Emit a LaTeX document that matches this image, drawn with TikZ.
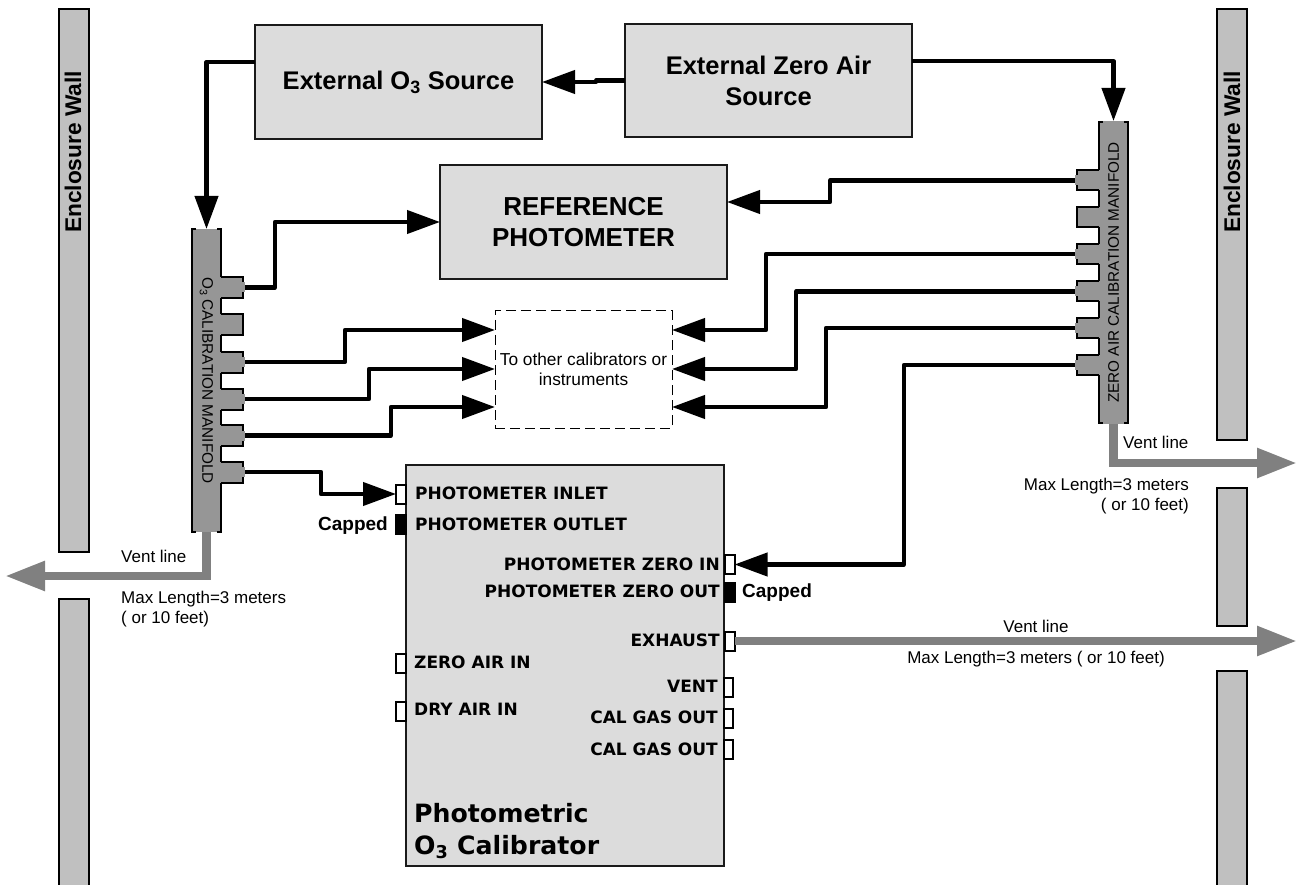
\documentclass[tikz,border=0pt]{standalone}
\usepackage{fontspec}
\usepackage{tikz}
\usepackage{xcolor}
\setmainfont{Liberation Sans}
\newfontfamily\portfont{DejaVu Sans}
\usetikzlibrary{arrows.meta,positioning}
\definecolor{boxgrey}{HTML}{DCDCDC}
\definecolor{wallgrey}{HTML}{C0C0C0}
\definecolor{mangrey}{HTML}{969696}
\definecolor{ventgrey}{HTML}{808080}
\definecolor{edgeblack}{HTML}{1A1A1A}

\begin{document}
\begin{tikzpicture}[
    x=1pt, y=-1pt,
    box/.style={rectangle, draw=edgeblack, fill=boxgrey, line width=2pt, align=center, outer sep=0pt, font=\bfseries\fontsize{25.5}{31}\selectfont},
    wall/.style={rectangle, draw=black, fill=wallgrey, line width=2pt, minimum width=30, outer sep=0pt, inner sep=0pt},
    walltext/.style={rotate=90, font=\bfseries\fontsize{22.7}{26}\selectfont},
    manifold/.style={rectangle, fill=mangrey, minimum width=303, minimum height=29, inner sep=0pt, outer sep=0pt, font=\fontsize{15.3}{17}\selectfont},
    tabedge/.style={draw=black, line width=2pt},
    port/.style={rectangle, draw=black, fill=white, line width=2pt, minimum width=10, minimum height=19, inner sep=0pt, outer sep=0pt},
    capport/.style={port, fill=black},
    portlabel/.style={inner sep=0pt, font=\portfont\bfseries\fontsize{17}{19}\selectfont},
    note/.style={inner sep=0pt, align=left, font=\fontsize{17}{20}\selectfont},
    capnote/.style={inner sep=0pt, font=\bfseries\fontsize{19}{22}\selectfont},
    pipe/.style={-{Triangle[length=33pt,width=23pt]}, line width=4.2pt, line join=round, draw=black},
    ventpipe/.style={-{Triangle[length=40pt,width=28pt]}, line width=8.5pt, draw=ventgrey}
  ]
    \useasboundingbox (0,0) rectangle (1296,885);
    % walls
    \node[wall, minimum height=543] (wallla) at (74,280.5) {};
    \node[wall, minimum height=300] (walllb) at (74,749) {};
    \node[wall, minimum height=431] (wallra) at (1232,224.5) {};
    \node[wall, minimum height=138] (wallrb) at (1232,556.5) {};
    \node[wall, minimum height=228] (wallrc) at (1232,785) {};
    \node[walltext] (wallltext) at (73,152) {Enclosure Wall};
    \node[walltext] (wallrtext) at (1232,152) {Enclosure Wall};

    % boxes
    \node[box, minimum width=287, minimum height=114] (o3src) at (398.5,82) {External O\textsubscript{3} Source};
    \node[box, right=83pt of o3src.east, anchor=west, yshift=1.5pt, minimum width=287, minimum height=113] (zerosrc) {External Zero Air\\Source};
    \node[box, minimum width=287, minimum height=114, font=\bfseries\fontsize{26}{31}\selectfont] (refphot) at (583.5,222) {REFERENCE\\PHOTOMETER};
    \node[rectangle, draw=black, dashed, dash pattern=on 10pt off 5pt, line width=1pt, minimum width=177, minimum height=117, outer sep=0pt, align=center, font=\fontsize{17.3}{20}\selectfont] (others) at (583.5,369.5) {To other calibrators or\\instruments};
    \node[box, minimum width=318, minimum height=401] (calib) at (565,665.5) {};
    \node[inner sep=0pt, align=left, anchor=south west, font=\portfont\bfseries\fontsize{25.2}{32}\selectfont] (calibtext) at (414,859) {Photometric\\O\textsubscript{3} Calibrator};

    % vent lines go under the manifolds
    \coordinate (ventl) at (5,576);
    \coordinate (ventr) at (1297,463);
    \coordinate (ventb) at (1297,641.5);
    \coordinate (ventlc) at (206.5,576);
    \coordinate (ventrc) at (1113.5,463);

    % O3 manifold
    \node[manifold, rotate=-90] (o3man) at (206.5,380.5) {O\textsubscript{3} CALIBRATION MANIFOLD};
    \draw[tabedge] (196,229) -- (192,229) -- (192,532) -- (196,532);
    \draw[tabedge] (217,229) -- (221,229) -- (221,532) -- (217,532);
    \foreach \ypos/\idx in {287.5/1,324.5/2,362/3,399/4,435.5/5,472/6} {
      \fill[mangrey] (219,\ypos-10.5) rectangle (243,\ypos+10.5);
      \draw[tabedge] (221,\ypos-10.5) -- (243,\ypos-10.5) -- (243,\ypos+10.5) -- (221,\ypos+10.5);
      \coordinate (o3p\idx) at (245,\ypos);
    }
    \foreach \idx in {1,3,4,5,6} {
      \fill[mangrey] ([xshift=-3pt,yshift=-5pt]o3p\idx) rectangle ([yshift=5pt]o3p\idx);
    }

    % zero air manifold
    \node[manifold, rotate=90] (zeroman) at (1113.5,272.5) {ZERO AIR CALIBRATION MANIFOLD};
    \draw[tabedge] (1103,122) -- (1099,122) -- (1099,423) -- (1103,423);
    \draw[tabedge] (1124,122) -- (1128,122) -- (1128,423) -- (1124,423);
    \foreach \ypos/\idx in {180.5/1,217.5/2,254/3,291.5/4,328/5,365/6} {
      \fill[mangrey] (1077,\ypos-10) rectangle (1101,\ypos+10);
      \draw[tabedge] (1099,\ypos-10) -- (1077,\ypos-10) -- (1077,\ypos+10) -- (1099,\ypos+10);
      \coordinate (zerop\idx) at (1075,\ypos);
    }
    \foreach \idx in {1,3,4,5,6} {
      \fill[mangrey] ([xshift=3pt,yshift=-5pt]zerop\idx) rectangle ([yshift=5pt]zerop\idx);
    }

    % calibrator ports
    \node[port] (inlet) at (401,494) {};
    \node[capport] (outlet) at (401,524.5) {};
    \node[port] (airin) at (401,663) {};
    \node[port] (dryin) at (401,711) {};
    \node[port] (zeroin) at (729.5,564.5) {};
    \node[capport] (zeroout) at (729.5,592) {};
    \node[port] (exhaust) at (729.5,641) {};
    \node[port, minimum width=9] (vent) at (728.5,687.5) {};
    \node[port, minimum width=9] (calouta) at (728.5,718) {};
    \node[port, minimum width=9] (caloutb) at (728.5,749.5) {};

    \node[portlabel, anchor=west] (inlettext) at (415,493) {PHOTOMETER INLET};
    \node[portlabel, anchor=west] (outlettext) at (415,524) {PHOTOMETER OUTLET};
    \node[portlabel, anchor=west] (airintext) at (414,662) {ZERO AIR IN};
    \node[portlabel, anchor=west] (dryintext) at (414,709) {DRY AIR IN};
    \node[portlabel, anchor=east] (zerointext) at (720,564) {PHOTOMETER ZERO IN};
    \node[portlabel, anchor=east] (zeroouttext) at (720,591) {PHOTOMETER ZERO OUT};
    \node[portlabel, anchor=east] (exhausttext) at (720,640) {EXHAUST};
    \node[portlabel, anchor=east] (venttext) at (718,686) {VENT};
    \node[portlabel, anchor=east] (calatext) at (718,717) {CAL GAS OUT};
    \node[portlabel, anchor=east] (calbtext) at (718,749) {CAL GAS OUT};
    \node[capnote, anchor=east] (capl) at (388,525.5) {Capped};
    \node[capnote, anchor=west] (capr) at (742,592.5) {Capped};

    % connectors
    \draw[pipe] (o3src.west |- 0,62) -| (o3man.west);
    \draw[pipe] (zerosrc.west) -- (596,80.5) -- (596,82) -- (o3src.east);
    \draw[pipe] (zerosrc.east |- 0,61) -| (zeroman.east);
    \draw[pipe] (o3p1) -| (275,222) -- (refphot.west);
    \draw[pipe] (zerop1) -| (830,202) -- (refphot.east |- 0,202);
    \draw[pipe] (o3p3) -| (345,330) -- (others.west |- 0,330);
    \draw[pipe] (o3p4) -| (369,369) -- (others.west |- 0,369);
    \draw[pipe] (o3p5) -| (391,407) -- (others.west |- 0,407);
    \draw[pipe] (o3p6) -| (321,494) -- (inlet.west);
    \draw[pipe] (zerop3) -| (766,330) -- (others.east |- 0,330);
    \draw[pipe] (zerop4) -| (796,369) -- (others.east |- 0,369);
    \draw[pipe] (zerop5) -| (826,407) -- (others.east |- 0,407);
    \draw[pipe] (zerop6) -| (904,564.5) -- (zeroin.east);
    \draw[ventpipe] (o3man.east) -- (ventlc) -- (ventl);
    \draw[ventpipe] (zeroman.west) -- (ventrc) -- (ventr);
    \draw[ventpipe] (exhaust.east) -- (ventb |- exhaust.east);

    % vent notes
    \node[note, anchor=west] (ventltext) at (121,556) {Vent line};
    \node[note, anchor=north west] (maxltext) at (121,591) {Max Length=3 meters\\( or 10 feet)};
    \node[note, anchor=west] (ventrtext) at (1123,442) {Vent line};
    \node[note, anchor=north east, align=right] (maxrtext) at (1189,478) {Max Length=3 meters\\( or 10 feet)};
    \node[note] (ventbtext) at (1036,626) {Vent line};
    \node[note] (maxbtext) at (1036,659) {Max Length=3 meters ( or 10 feet)};
  \end{tikzpicture}
\end{document}
